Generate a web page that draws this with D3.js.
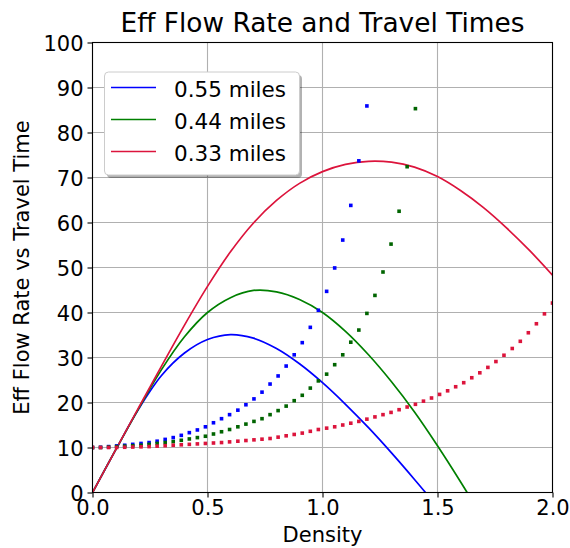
<!DOCTYPE html>
<html>
<head>
<meta charset="utf-8">
<script src="https://cdn.jsdelivr.net/npm/d3@7"></script>
<style>
  body { margin: 0; background: #fff; }
  text { font-family: "DejaVu Sans", sans-serif; fill: #000; }
</style>
</head>
<body>
<div class="d3Chart"></div>
<script>
// data

var labels = ["0.55 miles", "0.44 miles", "0.33 miles"];
var colors = ["#0000ff", "#008000", "#dc143c"];

// flow rate curves sampled every 0.1 of density
var flowDensity = [0, 0.1, 0.2, 0.3, 0.4, 0.5, 0.6, 0.7, 0.8, 0.9, 1.0,
  1.1, 1.2, 1.3, 1.4, 1.5, 1.6, 1.7, 1.8, 1.9, 2.0];
var flow055 = [0, 9.4, 18.5, 26.0, 31.0, 34.0, 35.1, 34.3, 32.0, 28.6, 24.4,
  19.6, 14.4, 8.8, 2.9, -3.2];
var flow044 = [0, 9.4, 18.6, 27.3, 34.6, 40.0, 43.3, 44.9, 44.6, 42.9, 40.0,
  35.8, 30.6, 24.6, 17.9, 10.4, 2.4, -6.0];
var flow033 = [0, 9.4, 18.8, 28.1, 37.2, 45.8, 53.5, 59.9, 64.9, 68.7, 71.3,
  72.9, 73.6, 73.4, 72.3, 70.2, 67.1, 63.3, 58.8, 53.8, 48.3];

// travel time dots
var density = [0, 0.035, 0.070, 0.105, 0.140, 0.175, 0.211, 0.246, 0.281, 0.316,
  0.351, 0.386, 0.421, 0.456, 0.491, 0.526, 0.561, 0.596, 0.632, 0.667,
  0.702, 0.737, 0.772, 0.807, 0.842, 0.877, 0.912, 0.947, 0.982, 1.018,
  1.053, 1.088, 1.123, 1.158, 1.193, 1.228, 1.263, 1.298, 1.333, 1.368,
  1.404, 1.439, 1.474, 1.509, 1.544, 1.579, 1.614, 1.649, 1.684, 1.719,
  1.754, 1.789, 1.825, 1.860, 1.895, 1.930, 1.965, 2.000];
var time055 = [10.0, 10.05, 10.2, 10.35, 10.5, 10.7, 10.9, 11.1, 11.4, 11.8,
  12.2, 12.7, 13.3, 13.9, 14.6, 15.5, 16.4, 17.3, 18.3, 19.5,
  20.8, 22.3, 24.1, 25.9, 28.1, 30.6, 33.3, 36.7, 40.5, 44.7,
  49.9, 56.1, 63.8, 73.7, 85.9];
var time044 = [10.0, 10.0, 10.1, 10.2, 10.3, 10.4, 10.5, 10.7, 10.9, 11.1,
  11.3, 11.6, 11.9, 12.2, 12.5, 13.0, 13.5, 14.0, 14.6, 15.2,
  15.8, 16.4, 17.3, 18.2, 19.2, 20.4, 21.6, 23.2, 24.8, 26.3,
  28.4, 30.6, 33.4, 36.1, 39.8, 43.8, 49.0, 55.2, 62.5, 72.4,
  85.3];
var time033 = [10.0, 10.0, 10.0, 10.0, 10.05, 10.1, 10.15, 10.2, 10.3, 10.4,
  10.5, 10.6, 10.7, 10.8, 10.9, 11.0, 11.1, 11.25, 11.4, 11.55,
  11.7, 11.85, 12.0, 12.3, 12.6, 12.9, 13.2, 13.6, 14.0, 14.3,
  14.6, 15.0, 15.4, 15.8, 16.3, 16.8, 17.3, 17.8, 18.4, 19.0,
  19.6, 20.3, 21.0, 21.8, 22.6, 23.5, 24.4, 25.5, 26.6, 27.8,
  29.1, 30.5, 32.0, 33.6, 35.5, 37.5, 39.7, 42.1];

var xTicks = [0, 0.5, 1.0, 1.5, 2.0];
var yTicks = [0, 10, 20, 30, 40, 50, 60, 70, 80, 90, 100];

// canvas

var width = 570;
var height = 548;
var pLeft = 92.5, pRight = 552.5, pTop = 42.5, pBottom = 492.5;

var svg = d3
  .select(".d3Chart")
  .append("svg")
  .attr("width", width)
  .attr("height", height)
  .style("background-color", "#fff");

var x = d3.scaleLinear().domain([0, 2]).range([pLeft, pRight]);
var y = d3.scaleLinear().domain([0, 100]).range([pBottom, pTop]);

svg.append("clipPath").attr("id", "plot")
  .append("rect")
  .attr("x", pLeft).attr("y", pTop)
  .attr("width", pRight - pLeft).attr("height", pBottom - pTop);

// grid
var grid = svg.append("g").attr("stroke", "#b0b0b0").attr("stroke-width", 1.1);
grid.selectAll(".gx").data(xTicks).enter().append("line")
  .attr("x1", (d) => x(d)).attr("x2", (d) => x(d))
  .attr("y1", pTop).attr("y2", pBottom);
grid.selectAll(".gy").data(yTicks).enter().append("line")
  .attr("x1", pLeft).attr("x2", pRight)
  .attr("y1", (d) => y(d)).attr("y2", (d) => y(d));

// flow curves
var flows = [flow055, flow044, flow033];
var line = d3.line()
  .x((d) => x(d[0]))
  .y((d) => y(d[1]))
  .curve(d3.curveCatmullRom);

var plot = svg.append("g").attr("clip-path", "url(#plot)");

flows.forEach(function (vals, s) {
  var pts = vals.map((v, i) => [flowDensity[i], v]);
  plot.append("path")
    .attr("d", line(pts))
    .attr("fill", "none")
    .attr("stroke", colors[s])
    .attr("stroke-width", 1.7);
});

// travel time dots
var times = [time055, time044, time033];
var ms = 3.6;
times.forEach(function (vals, s) {
  plot.selectAll()
    .data(vals.map((v, i) => [density[i], v]))
    .enter()
    .append("rect")
    .attr("x", (d) => x(d[0]) - ms / 2)
    .attr("y", (d) => y(d[1]) - ms / 2)
    .attr("width", ms)
    .attr("height", ms)
    .attr("fill", s == 1 ? "#006400" : colors[s]);
});

// axes
var fs = 21;
var xAxis = svg.append("g")
  .attr("transform", "translate(0," + pBottom + ")")
  .call(d3.axisBottom(x).tickValues(xTicks).tickFormat(d3.format(".1f")).tickSize(5).tickPadding(3));
var yAxis = svg.append("g")
  .attr("transform", "translate(" + pLeft + ",0)")
  .call(d3.axisLeft(y).tickValues(yTicks).tickFormat(d3.format("d")).tickSize(5).tickPadding(4));
[xAxis, yAxis].forEach(function (a) {
  a.select(".domain").remove();
  a.selectAll("line").attr("stroke", "#000").attr("stroke-width", 1.1);
  a.selectAll("text").style("font-size", fs + "px").attr("fill", "#000");
});
yAxis.selectAll("text").attr("dy", "0.36em");

svg.append("rect")
  .attr("x", pLeft).attr("y", pTop)
  .attr("width", pRight - pLeft).attr("height", pBottom - pTop)
  .attr("fill", "none").attr("stroke", "#000").attr("stroke-width", 1.1);

// titles
svg.append("text")
  .attr("x", (pLeft + pRight) / 2).attr("y", 32)
  .attr("text-anchor", "middle")
  .style("font-size", "26.4px")
  .text("Eff Flow Rate and Travel Times");

svg.append("text")
  .attr("x", (pLeft + pRight) / 2).attr("y", 542)
  .attr("text-anchor", "middle")
  .style("font-size", fs + "px")
  .text("Density");

svg.append("text")
  .attr("transform", "translate(29," + (pTop + pBottom) / 2 + ") rotate(-90)")
  .attr("text-anchor", "middle")
  .style("font-size", fs + "px")
  .text("Eff Flow Rate vs Travel Time");

// legend
var legend = svg.append("g");
legend.append("rect")
  .attr("x", 107).attr("y", 75).attr("width", 195).attr("height", 103)
  .attr("rx", 4).attr("fill", "#000").attr("opacity", 0.3);
legend.append("rect")
  .attr("x", 104.5).attr("y", 72).attr("width", 195).attr("height", 103)
  .attr("rx", 4).attr("fill", "#fff").attr("stroke", "#cccccc");

var rows = legend.selectAll(".row").data(labels).enter().append("g")
  .attr("transform", (d, i) => "translate(0," + (87.5 + i * 32) + ")");
rows.append("line")
  .attr("x1", 111).attr("x2", 156)
  .attr("stroke", (d, i) => colors[i]).attr("stroke-width", 1.7);
rows.append("text")
  .attr("x", 174).attr("y", 9.5)
  .style("font-size", "21.5px")
  .text((d) => d);
</script>
</body>
</html>
